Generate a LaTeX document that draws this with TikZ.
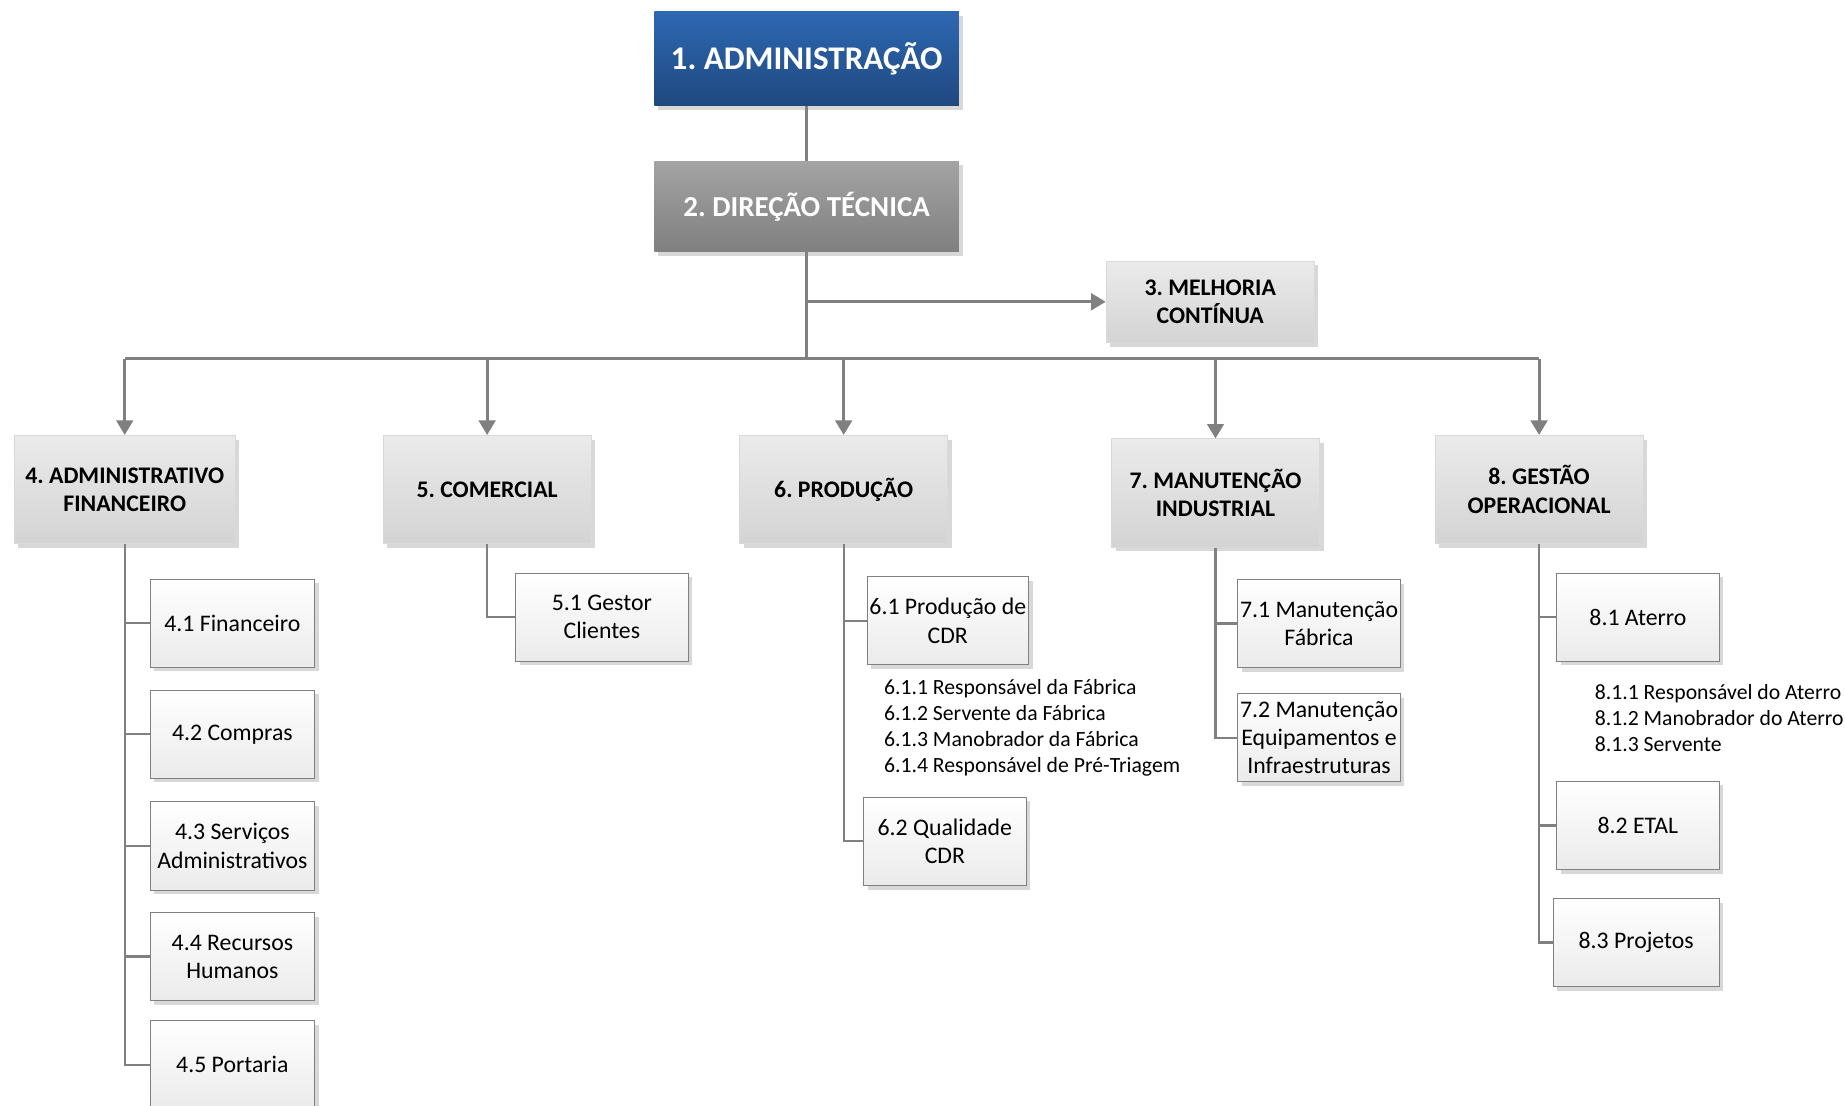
\documentclass[tikz,border=0pt]{standalone}
\usepackage{fontspec}
\setmainfont{Carlito}
\frenchspacing
\usetikzlibrary{arrows.meta,shadows,positioning}
\definecolor{blue-top}{RGB}{46,104,178}
\definecolor{blue-bottom}{RGB}{31,72,127}
\definecolor{line-gray}{RGB}{128,128,128}
\tikzset{
    box-shadow/.style = {drop shadow={shadow xshift=2pt, shadow yshift=-2pt, fill=black!30}},
    head-box/.style = {rectangle, box-shadow, top color=blue-top, bottom color=blue-bottom, text=white, minimum width=5.18cm, minimum height=1.6cm, font=\fontsize{16}{19}\selectfont\bfseries},
    chief-box/.style = {rectangle, box-shadow, top color=black!36, bottom color=black!50, text=white, minimum width=5.18cm, minimum height=1.54cm, font=\fontsize{14}{17}\selectfont\bfseries},
    dept-box/.style = {rectangle, box-shadow, top color=black!8, bottom color=black!17, draw=black!15, align=center, minimum width=3.54cm, minimum height=1.84cm, font=\fontsize{11.5}{13.7}\selectfont\bfseries},
    sub-box/.style = {rectangle, box-shadow, top color=white, bottom color=black!8, draw=line-gray, align=center, minimum width=2.8cm, minimum height=1.5cm, inner sep=1pt, font=\fontsize{11.5}{13.7}\selectfont},
    role-list/.style = {align=left, anchor=north west, inner sep=0pt, font=\fontsize{10.5}{12.6}\selectfont},
    main-line/.style = {draw=line-gray, line width=1.4pt},
    main-arrow/.style = {main-line, -{Triangle[width=8pt,length=7pt]}},
    sub-line/.style = {draw=line-gray, line width=1.1pt},
}

\begin{document}
\begin{tikzpicture}[x=0.02cm, y=-0.02cm]
\useasboundingbox (0,0) rectangle (1568,939.9);

\node[head-box] (b1) at (685.5,50) {1. ADMINISTRAÇÃO};
\node[chief-box] (b2) at (685.5,175.5) {2. DIREÇÃO TÉCNICA};
\node[dept-box, minimum height=1.38cm] (b3) at (1028.5,256.5) {3. MELHORIA\\CONTÍNUA};

\node[dept-box, minimum width=3.76cm] (b4) at (106,416) {4. ADMINISTRATIVO\\FINANCEIRO};
\node[dept-box] (b5) at (414,416) {5. COMERCIAL};
\node[dept-box] (b6) at (717,416) {6. PRODUÇÃO};
\node[dept-box] (b7) at (1033,419) {7. MANUTENÇÃO\\INDUSTRIAL};
\node[dept-box] (b8) at (1308,416) {8. GESTÃO\\OPERACIONAL};

\node[sub-box] (b41) at (197.5,529.5) {4.1 Financeiro};
\node[sub-box] (b42) at (197.5,624) {4.2 Compras};
\node[sub-box] (b43) at (197.5,719) {4.3 Serviços\\Administrativos};
\node[sub-box] (b44) at (197.5,813) {4.4 Recursos\\Humanos};
\node[sub-box] (b45) at (197.5,905) {4.5 Portaria};

\node[sub-box, minimum width=2.94cm] (b51) at (511.5,524.5) {5.1 Gestor\\Clientes};

\node[sub-box, minimum width=2.74cm] (b61) at (805.5,527.5) {6.1 Produção de\\CDR};
\node[role-list] (l61) at (751,577) {6.1.1 Responsável da Fábrica\\6.1.2 Servente da Fábrica\\6.1.3 Manobrador da Fábrica\\6.1.4 Responsável de Pré-Triagem};
\node[sub-box, minimum width=2.76cm] (b62) at (803,715) {6.2 Qualidade\\CDR};

\node[sub-box, minimum width=2.76cm] (b71) at (1121,530) {7.1 Manutenção\\Fábrica};
\node[sub-box, minimum width=2.76cm] (b72) at (1121,627) {7.2 Manutenção\\Equipamentos e\\Infraestruturas};

\node[sub-box, minimum width=2.76cm] (b81) at (1392,524.5) {8.1 Aterro};
\node[role-list] (l81) at (1355,581) {8.1.1 Responsável do Aterro\\8.1.2 Manobrador do Aterro\\8.1.3 Servente};
\node[sub-box, minimum width=2.76cm] (b82) at (1392,701.5) {8.2 ETAL};
\node[sub-box, minimum width=2.82cm] (b83) at (1390.5,801) {8.3 Projetos};

\coordinate (bus) at (685.5,305);
\coordinate (split) at (b2.south |- b3.west);

\draw[main-line] (b1) -- (b2);
\draw[main-line] (b2.south) -- (bus);
\draw[main-arrow] (split) -- (b3.west);
\draw[main-line] (b4.north |- bus) -- (b8.north |- bus);
\foreach \n in {b4,b5,b6,b7,b8}
    \draw[main-arrow] (\n.north |- bus) -- (\n.north);

\foreach \n in {b41,b42,b43,b44,b45}
    \draw[sub-line] (b4.south) |- (\n.west);
\draw[sub-line] (b5.south) |- (b51.west);
\foreach \n in {b61,b62}
    \draw[sub-line] (b6.south) |- (\n.west);
\foreach \n in {b71,b72}
    \draw[sub-line] (b7.south) |- (\n.west);
\foreach \n in {b81,b82,b83}
    \draw[sub-line] (b8.south) |- (\n.west);
\end{tikzpicture}
\end{document}
